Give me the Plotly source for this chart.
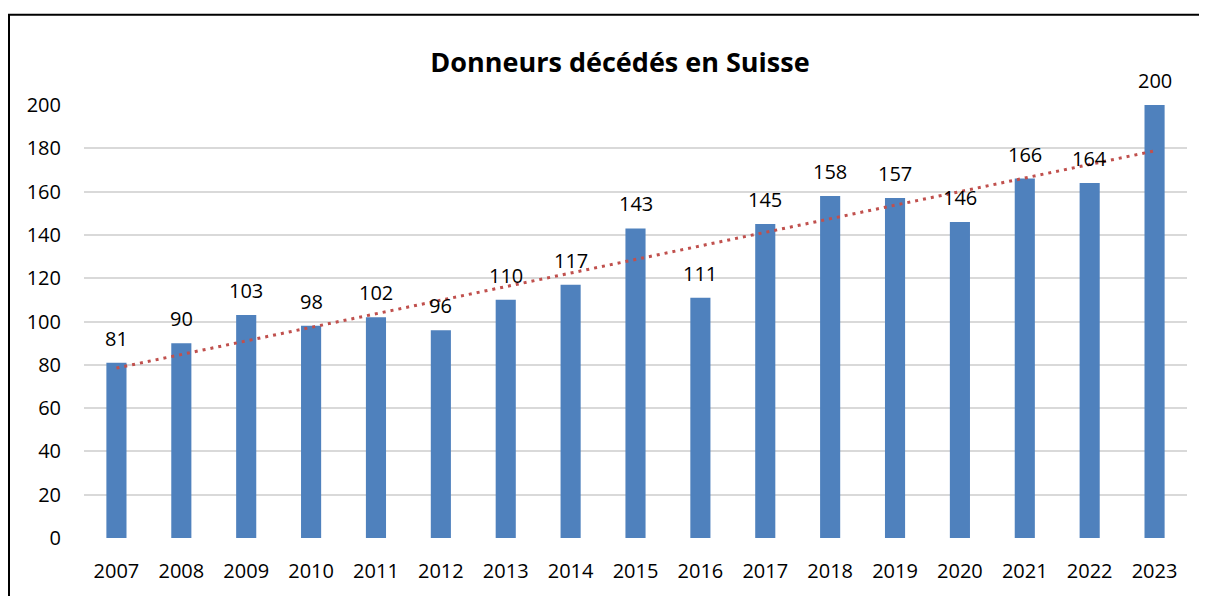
import numpy as np
import plotly.graph_objects as go

years = [2007, 2008, 2009, 2010, 2011, 2012, 2013, 2014, 2015,
         2016, 2017, 2018, 2019, 2020, 2021, 2022, 2023]
donors = [81, 90, 103, 98, 102, 96, 110, 117, 143, 111, 145, 158, 157, 146, 166, 164, 200]
y_ticks = [0, 20, 40, 60, 80, 100, 120, 140, 160, 180, 200]
title_text = "Donneurs décédés en Suisse"

FONT = "'Open Sans', Lato, sans-serif"

# linear trendline (least squares, like Excel's linear trendline)
slope, intercept = np.polyfit(years, donors, 1)
trend = [slope * yr + intercept for yr in years]

# page has an 8px body margin; figure geometry is expressed in figure pixels
W, H = 1199, 588
L, R, T, B = 76, 20, 97, 50
PW, PH = W - L - R, H - T - B

fig = go.Figure()
fig.add_trace(go.Bar(x=years, y=donors, marker=dict(color="#4F81BD", line=dict(width=0)),
                     width=0.31, showlegend=False, hoverinfo="x+y"))
fig.add_trace(go.Scatter(x=years, y=trend, mode="lines",
                         line=dict(color="#C0504D", width=3, dash="3px,5px"),
                         showlegend=False, hoverinfo="skip"))

for yr, v in zip(years, donors):
    fig.add_annotation(x=yr, y=v, text=str(v), showarrow=False, yanchor="bottom",
                       yshift=9, font=dict(size=20, color="#000000", family=FONT))

fig.add_shape(type="rect", xref="paper", yref="paper",
              x0=(1 - L) / PW, x1=(W + 10 - L) / PW,
              y0=-(B + 10) / PH, y1=1 + (T - 5) / PH,
              line=dict(color="#000000", width=2), fillcolor="rgba(0,0,0,0)", layer="above")

fig.update_layout(
    width=W, height=H,
    margin=dict(l=L, r=R, t=T, b=B),
    paper_bgcolor="white", plot_bgcolor="white",
    font=dict(family=FONT, size=20, color="#000000"),
    title=dict(text="<b>" + title_text + "</b>", x=(612 - L) / PW, xref="paper", xanchor="center",
               y=1 - 55 / H, yanchor="middle", font=dict(size=27, family=FONT, color="#000000")),
    xaxis=dict(range=[2006.5, 2023.5], tickvals=years, ticktext=[str(y) for y in years],
               showgrid=False, showline=False, ticks="outside", ticklen=15, tickcolor="white",
               autorange=False, tickfont=dict(size=20), zeroline=False),
    yaxis=dict(range=[0, 200], tickvals=y_ticks, showgrid=True, gridcolor="#D9D9D9",
               gridwidth=1.5, zeroline=False, showline=False, ticks="outside", ticklen=18,
               tickcolor="white", autorange=False, tickfont=dict(size=20)),
)

fig.write_html("out.html")
